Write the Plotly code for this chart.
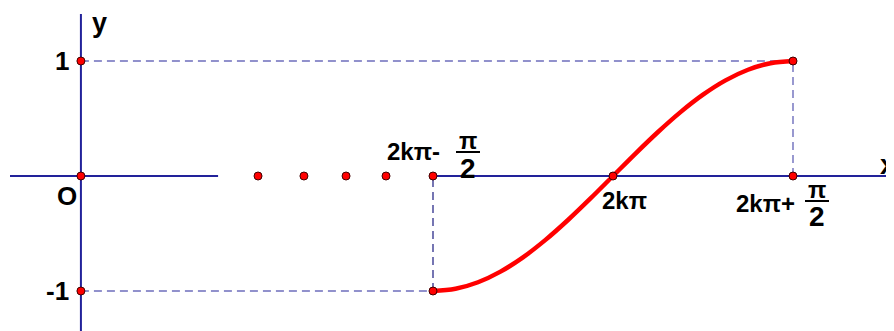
import plotly.graph_objects as go

# x measured in units of pi/2 relative to 2k*pi ; y = sin
curve_x = [-1, -0.875, -0.75, -0.625, -0.5, -0.375, -0.25, -0.125, 0,
           0.125, 0.25, 0.375, 0.5, 0.625, 0.75, 0.875, 1]
curve_y = [-1, -0.9808, -0.9239, -0.8315, -0.7071, -0.5556, -0.3827, -0.1951, 0,
           0.1951, 0.3827, 0.5556, 0.7071, 0.8315, 0.9239, 0.9808, 1]

origin_x = -2.956
key_x = [origin_x, origin_x, origin_x, -1, -1, 0, 1, 1]
key_y = [0, 1, -1, -1, 0, 0, 1, 0]
dots_x = [-1.972, -1.717, -1.483, -1.261]
dots_y = [0, 0, 0, 0]

# page body has an 8px margin: figure pixel = screen pixel - 8
OFF = 8
XMIN, XMAX = (OFF - 613) / 180, (894 + OFF - 613) / 180
YMIN, YMAX = (176 - 331 - OFF) / 115, (176 - OFF) / 115

AXIS = "#22229a"
DASH = "#6e6ebc"
fig = go.Figure()

def seg(x, y, color, width, dash="solid"):
    fig.add_trace(go.Scatter(x=x, y=y, mode="lines",
                             line=dict(color=color, width=width, dash=dash),
                             hoverinfo="skip", showlegend=False))

# axes
seg([-3.35, -2.194], [0, 0], AXIS, 2)
seg([-1, XMAX + 0.1], [0, 0], AXIS, 2)
seg([origin_x, origin_x], [YMIN - 0.1, 1.409], AXIS, 2)
# dashed guides
seg([origin_x, 1], [1, 1], DASH, 1.4, "8px,5px")
seg([origin_x, -1], [-1, -1], DASH, 1.4, "8px,5px")
seg([-1, -1], [-1, 0], "#1c1c80", 1.2, "8px,5px")
seg([1, 1], [0, 1], DASH, 1.4, "8px,5px")

# curve
fig.add_trace(go.Scatter(x=curve_x, y=curve_y, mode="lines",
                         line=dict(color="#ff0000", width=4.5, shape="spline"),
                         hoverinfo="skip", showlegend=False))
# points
fig.add_trace(go.Scatter(x=key_x + dots_x, y=key_y + dots_y, mode="markers",
                         marker=dict(color="#ff0000", size=8,
                                     line=dict(color="#400000", width=1)),
                         hoverinfo="skip", showlegend=False))

F = "Liberation Sans, Arial, sans-serif"

def lab(text, px, py, size=24, xa="center", ya="middle"):
    fig.add_annotation(x=(px - 613) / 180, y=(176 - py) / 115, text="<b>%s</b>" % text,
                       showarrow=False, xanchor=xa, yanchor=ya, borderpad=0,
                       font=dict(family=F, size=size, color="#000000"))

lab("y", 99, 23, 27)
lab("1", 62, 61, 26)
lab("-1", 57, 291, 26)
lab("O", 67, 196, 26)
lab("x", 879, 164, 28, xa="left")
lab("2kπ-", 413, 151, 24)
lab("π", 468, 140, 24)
lab("2", 468, 168, 28)
lab("2kπ", 624, 200, 24)
lab("2kπ+", 765, 203, 24)
lab("π", 817, 189, 24)
lab("2", 817, 216, 28)

for cx, cy in [(468, 152), (817, 201)]:
    fig.add_shape(type="line", x0=(cx - 12 - 613) / 180, x1=(cx + 12 - 613) / 180,
                  y0=(176 - cy) / 115, y1=(176 - cy) / 115,
                  line=dict(color="#000000", width=2))

fig.update_layout(width=894, height=331, margin=dict(l=0, r=0, t=0, b=0),
                  plot_bgcolor="white", paper_bgcolor="white",
                  xaxis=dict(range=[XMIN, XMAX], visible=False, fixedrange=True),
                  yaxis=dict(range=[YMIN, YMAX], visible=False, fixedrange=True))
fig.write_html("out.html")
